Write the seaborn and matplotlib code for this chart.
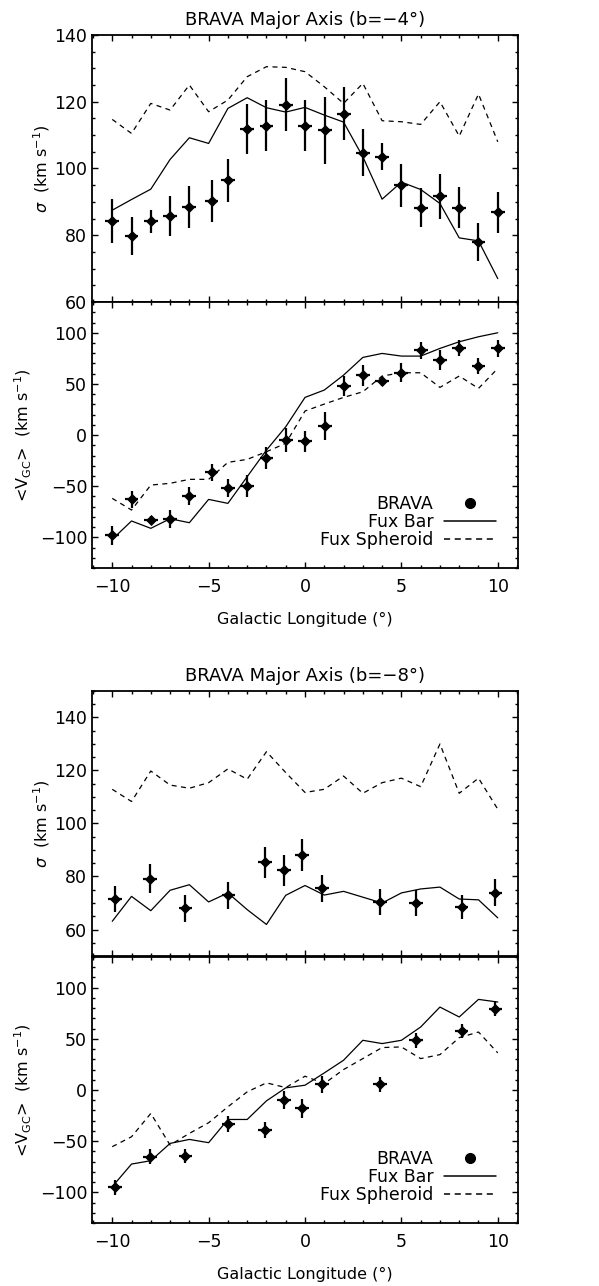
import numpy as np
import pandas as pd
import matplotlib
matplotlib.use('Agg')
import matplotlib.pyplot as plt
from matplotlib.lines import Line2D
from matplotlib.ticker import MultipleLocator
import seaborn as sns

# longitude grid of the Fux models
l_model = list(range(-10, 11))

# b = -4 field: BRAVA points
l_b4 = [-10, -9, -8, -7, -6, -4.85, -4, -3, -2, -1, 0, 1.05, 2, 3, 4, 5, 6, 7, 8, 9, 10]
sig_b4 = [84.2, 79.8, 84.2, 85.8, 88.5, 90.3, 96.5, 111.8, 112.8, 119.1, 112.8, 111.4,
          116.4, 104.7, 103.5, 94.9, 88.3, 91.7, 88.3, 77.9, 86.9]
sig_b4_err = [6.6, 5.8, 3.5, 6.0, 6.2, 6.2, 6.4, 7.5, 7.7, 8.0, 7.6, 10.0,
              8.0, 7.0, 4.1, 6.3, 5.8, 6.7, 6.0, 5.7, 6.1]
v_b4 = [-98.0, -62.9, -83.1, -81.8, -59.6, -36.5, -51.8, -49.8, -22.5, -4.9, -6.2, 8.8,
        47.9, 58.3, 53.1, 60.9, 82.7, 73.3, 85.3, 67.4, 84.7]
v_b4_err = [9, 8.5, 4, 8.6, 8.8, 8.6, 9, 11, 11, 12, 10, 14,
            10, 10, 5, 9.5, 8, 10, 8, 8, 8]

# b = -4 field: Fux models
bar_sig_b4 = [87.5, 90.7, 93.8, 102.7, 109.2, 107.5, 118.0, 121.2, 118.2, 116.9, 118.3,
              116.0, 113.9, 103.5, 90.8, 95.9, 93.7, 89.5, 79.2, 78.3, 67.0]
sph_sig_b4 = [114.7, 110.5, 119.5, 117.5, 125.0, 117.0, 120.5, 127.5, 130.5, 130.3, 129.0,
              124.5, 119.5, 125.5, 114.3, 114.0, 113.2, 120.0, 109.7, 122.3, 108.0]
bar_v_b4 = [-102, -84, -91.2, -81.8, -85.7, -62.9, -66.8, -40.7, -14.7, 8.1, 36.8,
            44.0, 58.6, 75.9, 79.8, 77.2, 77.2, 84.7, 91.2, 96.1, 100.0]
sph_v_b4 = [-61.9, -73.3, -48.9, -47.2, -43.3, -43.3, -26.7, -23.8, -16.3, -8.1, 23.5,
            30.3, 36.8, 42.3, 57.7, 60.9, 60.9, 46.6, 57.7, 45.6, 65.1]

# b = -8 field: BRAVA points
l_b8 = [-9.86, -8.05, -6.2, -3.97, -2.09, -1.09, -0.15, 0.86, 3.87, 5.77, 8.12, 9.88]
sig_b8 = [71.5, 79.2, 68.0, 73.0, 85.3, 82.3, 88.2, 75.5, 70.4, 70.0, 68.5, 73.8]
sig_b8_err = [5.0, 5.6, 5.0, 5.1, 5.7, 5.8, 6.0, 5.2, 5.0, 5.0, 4.7, 5.1]
v_b8 = [-95.1, -65.2, -64.2, -33.3, -39.2, -9.9, -18.0, 5.4, 5.4, 48.6, 57.7, 79.5]
v_b8_err = [7.5, 7.5, 7, 8, 8, 8.5, 9, 8, 7, 7.3, 7, 7.5]

# b = -8 field: Fux models
bar_sig_b8 = [63.1, 72.5, 67.1, 74.8, 76.9, 70.4, 73.8, 67.5, 61.9, 72.9, 76.6,
              73.0, 74.4, 72.2, 70.0, 73.8, 75.3, 76.0, 71.5, 71.2, 64.4]
sph_sig_b8 = [112.9, 108.3, 119.8, 114.5, 113.3, 115.4, 120.6, 116.7, 127.1, 119.2, 111.7,
              112.9, 117.9, 111.4, 115.4, 117.1, 113.9, 130.0, 111.4, 117.1, 105.4]
bar_v_b8 = [-94.5, -72.4, -69.1, -52.2, -48.3, -51.5, -28.8, -28.8, -10.6, 2.1, 4.7,
            16.7, 29.1, 48.6, 45.4, 48.6, 61.6, 81.1, 71.4, 88.6, 86.0]
sph_v_b8 = [-55.4, -45.7, -22.9, -53.8, -42.4, -32.0, -16.4, -1.8, 7.0, 2.4, 13.5,
            6.3, 20.0, 30.7, 41.5, 42.1, 30.7, 34.6, 51.2, 56.7, 36.3]

L_ERR = 0.36

sns.set_style('ticks')
plt.rcParams['font.family'] = ['DejaVu Sans']
plt.rcParams['mathtext.fontset'] = 'dejavusans'
plt.rcParams['axes.linewidth'] = 1.3
plt.rcParams['xtick.direction'] = 'in'
plt.rcParams['ytick.direction'] = 'in'
for key in ('text.color', 'axes.labelcolor', 'xtick.color', 'ytick.color',
            'axes.edgecolor'):
    plt.rcParams[key] = 'black'

fig = plt.figure(figsize=(5.99, 12.86), dpi=100)

left, width = 0.1536, 0.7112
ax1 = fig.add_axes([left, 0.7652, width, 0.2076])
ax2 = fig.add_axes([left, 0.5583, width, 0.2068])
ax3 = fig.add_axes([left, 0.2566, width, 0.2061])
ax4 = fig.add_axes([left, 0.0490, width, 0.2068])


def draw_panel(ax, l_pts, y_pts, y_err, bar, sph):
    df = pd.DataFrame({'l': l_model, 'bar': bar, 'sph': sph})
    sns.lineplot(data=df, x='l', y='bar', ax=ax, color='black', lw=0.9,
                 estimator=None, sort=False)
    sns.lineplot(data=df, x='l', y='sph', ax=ax, color='black', lw=0.9,
                 estimator=None, sort=False)
    ax.lines[-1].set_dashes([4, 3.5])
    ax.errorbar(l_pts, y_pts, yerr=y_err, xerr=L_ERR, fmt='none',
                ecolor='black', elinewidth=1.6, capsize=0)
    sns.scatterplot(x=l_pts, y=y_pts, ax=ax, marker='D', s=32, color='black',
                    edgecolor='black', linewidth=0, zorder=5)
    ax.set_xlim(-11.05, 11.05)
    ax.xaxis.set_major_locator(MultipleLocator(5))
    ax.xaxis.set_minor_locator(MultipleLocator(1))
    ax.tick_params(which='both', top=True, right=True, labelsize=12.5,
                   width=1.0, colors='black')
    ax.tick_params(which='major', length=4.2)
    ax.tick_params(which='minor', length=2.3)
    ax.set_xlabel('')
    ax.set_ylabel('')


def sigma_axis(ax, lo, hi, title):
    ax.set_ylim(lo, hi)
    ax.yaxis.set_major_locator(MultipleLocator(20))
    ax.yaxis.set_minor_locator(MultipleLocator(5))
    ax.set_ylabel(r'$\sigma$  (km s$^{-1}$)', fontsize=11.5)
    ax.set_title(title, fontsize=13, pad=7.5)
    ax.tick_params(labelbottom=False)
    ax.yaxis.set_label_coords(-0.095, 0.5)


def vel_axis(ax):
    ax.set_ylim(-130, 130)
    ax.yaxis.set_major_locator(MultipleLocator(50))
    ax.yaxis.set_minor_locator(MultipleLocator(10))
    ax.set_yticks([-100, -50, 0, 50, 100])
    ax.set_yticklabels(['\u2212100', '\u221250', '0', '50', '100'])
    ax.set_xticks([-10, -5, 0, 5, 10])
    ax.set_xticklabels(['\u221210', '\u22125', '0', '5', '10'])
    ax.set_ylabel(r'<V$_{\rm GC}$>  (km s$^{-1}$)', fontsize=11.5)
    ax.set_xlabel('Galactic Longitude (\u00b0)', fontsize=11.5, labelpad=12)
    ax.tick_params(axis='x', pad=7)
    ax.yaxis.set_label_coords(-0.135, 0.5)
    handles = [Line2D([], [], marker='o', ls='none', color='black', markersize=7),
               Line2D([], [], color='black', lw=1.1),
               Line2D([], [], color='black', lw=1.1, dashes=[4, 3])]
    ax.legend(handles, ['BRAVA', 'Fux Bar', 'Fux Spheroid'], loc='lower right',
              bbox_to_anchor=(0.948, 0.072), frameon=False, markerfirst=False,
              fontsize=12.5, handlelength=3.0, handletextpad=0.6, labelspacing=0.0,
              borderpad=0, borderaxespad=0)


draw_panel(ax1, l_b4, sig_b4, sig_b4_err, bar_sig_b4, sph_sig_b4)
sigma_axis(ax1, 60, 140, 'BRAVA Major Axis (b=\u22124\u00b0)')
ax1.set_yticks([60, 80, 100, 120, 140])

draw_panel(ax2, l_b4, v_b4, v_b4_err, bar_v_b4, sph_v_b4)
vel_axis(ax2)

draw_panel(ax3, l_b8, sig_b8, sig_b8_err, bar_sig_b8, sph_sig_b8)
sigma_axis(ax3, 50, 150, 'BRAVA Major Axis (b=\u22128\u00b0)')
ax3.set_yticks([60, 80, 100, 120, 140])

draw_panel(ax4, l_b8, v_b8, v_b8_err, bar_v_b8, sph_v_b8)
vel_axis(ax4)

fig.savefig('out.png', dpi=100, facecolor='white')
